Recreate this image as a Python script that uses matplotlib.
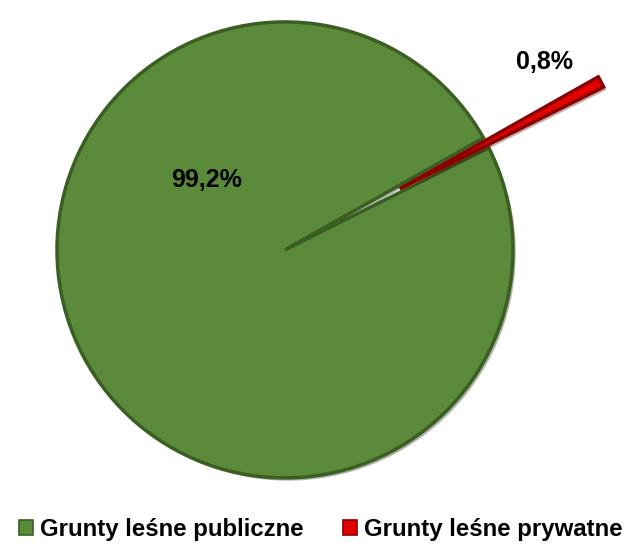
import matplotlib
matplotlib.use('Agg')
import matplotlib.pyplot as plt
import matplotlib.patheffects as pe
from matplotlib.patches import Patch

# data
labels = ['Grunty leśne publiczne', 'Grunty leśne prywatne']
shares = [99.2, 0.8]
share_text = ['99,2%', '0,8%']
colors = ['#5b8a3a', '#e30000']
edge_colors = ['#3b5e22', '#8a0000']

plt.rcParams['font.family'] = ['Liberation Sans', 'DejaVu Sans']

fig = plt.figure(figsize=(6.29, 5.47), dpi=100)
ax = fig.add_axes([0, 0, 1, 1])

wedges, _ = ax.pie(shares, colors=colors, explode=[0, 0.57], startangle=29.44,
                   counterclock=True, radius=1,
                   wedgeprops=dict(linewidth=2.5))
for w, ec in zip(wedges, edge_colors):
    w.set_edgecolor(ec)
    w.set_path_effects([pe.SimplePatchShadow(offset=(2, -2), alpha=0.35), pe.Normal()])

ax.set_xlim(-1.25, 1.509)
ax.set_ylim(-1.303, 1.096)
ax.axis('off')

ax.text(-0.342, 0.307, share_text[0], ha='center', va='center',
        fontsize=18, fontweight='bold', color='black')
ax.text(1.14, 0.825, share_text[1], ha='center', va='center',
        fontsize=18, fontweight='bold', color='black')

handles = [Patch(facecolor=c, edgecolor=ec, linewidth=1.2) for c, ec in zip(colors, edge_colors)]
fig.legend(handles, labels, loc='lower center', bbox_to_anchor=(0.51, -0.028), ncol=2,
           frameon=False, handlelength=0.6, handleheight=0.6, handletextpad=0.3,
           columnspacing=1.6, prop=dict(size=17.3, weight='bold'))

fig.savefig('out.png', dpi=100, facecolor='white')
